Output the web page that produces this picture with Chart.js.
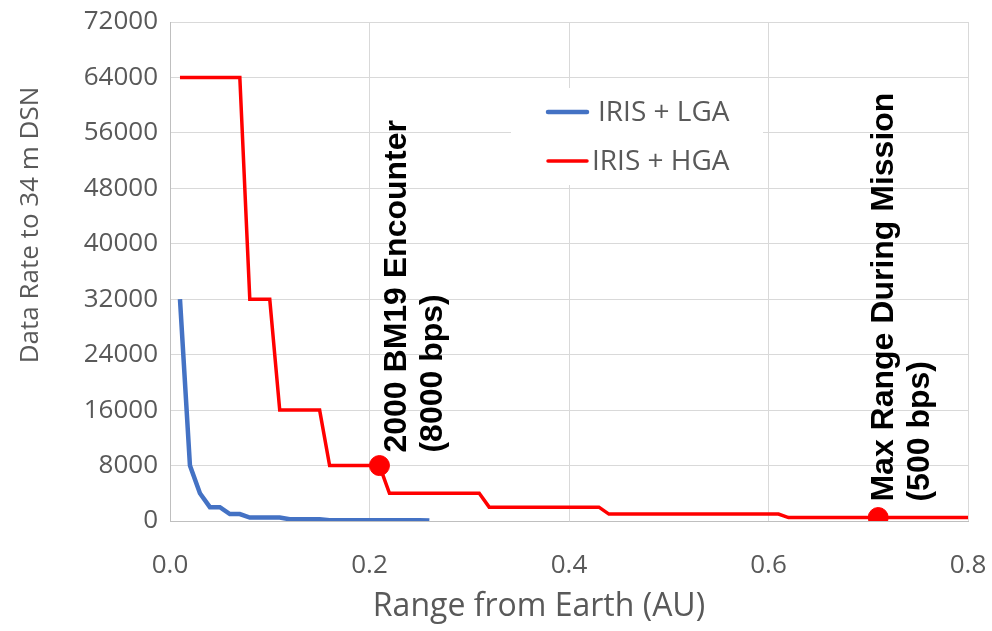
<!DOCTYPE html>
<html><head><meta charset="utf-8">
<script src="https://cdn.jsdelivr.net/npm/chart.js@4.4.1/dist/chart.umd.min.js"></script>
<style>html,body{margin:0;padding:0;background:#fff;overflow:hidden}</style>
</head><body>
<canvas id="c" width="992" height="631" style="width:992px;height:631px;display:block"></canvas>
<script>
// ---- data ----
const lgaRange = [0.01,0.02,0.03,0.04,0.05,0.06,0.07,0.08,0.09,0.10,0.11,0.12,0.13,0.14,0.15,0.16,0.17,0.18,0.19,0.20,0.21,0.22,0.23,0.24,0.25,0.26];
const lgaRate  = [32000,8000,4000,2000,2000,1000,1000,500,500,500,500,250,250,250,250,125,125,125,125,125,125,125,125,125,125,60];
const hgaRange = [0.01,0.07,0.08,0.10,0.11,0.15,0.16,0.21,0.22,0.31,0.32,0.43,0.44,0.61,0.62,0.80];
const hgaRate  = [64000,64000,32000,32000,16000,16000,8000,8000,4000,4000,2000,2000,1000,1000,500,500];
const markRange = [0.21, 0.71];
const markRate  = [8000, 500];
const markLabels = [["2000 BM19 Encounter","(8000 bps)"],["Max Range During Mission","(500 bps)"]];
const seriesNames = ["IRIS + LGA","IRIS + HGA"];
const xTickValues = [0.0,0.2,0.4,0.6,0.8];
const yTickValues = [0,8000,16000,24000,32000,40000,48000,56000,64000,72000];
const xTitle = "Range from Earth (AU)";
const yTitle = "Data Rate to 34 m DSN";

const BLUE = "#4472C4", RED = "#FF0000", GREY = "#595959";
const FONT = "'Open Sans', 'Liberation Sans', sans-serif";

const toPts = (xs, ys) => xs.map((x,i)=>({x:x, y:ys[i]}));

const overlay = {
  id: 'overlay',
  beforeDatasetsDraw(chart){
    const ctx = chart.ctx;
    ctx.save();
    // legend box
    ctx.fillStyle = '#fff';
    ctx.fillRect(511, 88, 252, 97);
    const items = [{c:BLUE,w:4.5,y:112,tx:598},{c:RED,w:3.5,y:161,tx:592}];
    items.forEach((it,i)=>{
      ctx.strokeStyle = it.c; ctx.lineWidth = it.w; ctx.lineCap='round';
      ctx.beginPath(); ctx.moveTo(548,it.y); ctx.lineTo(587,it.y); ctx.stroke();
      ctx.fillStyle = GREY; ctx.font = "28px " + FONT;
      ctx.textAlign='left'; ctx.textBaseline='middle';
      ctx.fillText(seriesNames[i], it.tx, it.y+1);
    });
    // axis titles
    ctx.fillStyle = GREY;
    ctx.textAlign='center'; ctx.textBaseline='middle';
    ctx.font = "32px " + FONT;
    ctx.fillText(xTitle, 539, 607);
    ctx.font = "26px " + FONT;
    ctx.translate(31, 225); ctx.rotate(-Math.PI/2);
    ctx.fillText(yTitle, 0, 0);
    ctx.restore();
  },
  afterDatasetsDraw(chart){
    const ctx = chart.ctx, xs = chart.scales.x, ys = chart.scales.y;
    const offs = [[27,13],[15,16]];
    ctx.save();
    ctx.fillStyle = '#000';
    ctx.font = "bold 32px 'Liberation Sans', Arial, sans-serif";
    ctx.textAlign='left'; ctx.textBaseline='alphabetic';
    markRange.forEach((r,i)=>{
      const px = xs.getPixelForValue(r), py = ys.getPixelForValue(markRate[i]);
      ctx.save();
      ctx.translate(px+offs[i][0], py-offs[i][1]);
      ctx.rotate(-Math.PI/2);
      markLabels[i].forEach((t,j)=>ctx.fillText(t, 0, j*36));
      ctx.restore();
    });
    ctx.restore();
  }
};

new Chart(document.getElementById('c'), {
  type: 'scatter',
  data: {
    datasets: [
      {label: seriesNames[0], data: toPts(lgaRange,lgaRate), showLine:true, borderColor:BLUE, borderWidth:4.5, pointRadius:0, tension:0, fill:false, order:2},
      {label: seriesNames[1], data: toPts(hgaRange,hgaRate), showLine:true, borderColor:RED, borderWidth:3.5, pointRadius:0, tension:0, fill:false, order:1},
      {label: 'markers', data: toPts(markRange,markRate), showLine:false, backgroundColor:RED, borderColor:RED, pointRadius:10, pointHoverRadius:10, order:0}
    ]
  },
  options: {
    responsive:false, animation:false, devicePixelRatio:1,
    layout:{padding:{left:0,right:24,top:22,bottom:0}},
    plugins:{legend:{display:false}, tooltip:{enabled:false}},
    scales:{
      x:{type:'linear', min:0, max:0.8,
        afterBuildTicks: s => { s.ticks = xTickValues.map(v=>({value:v})); },
        afterFit: s => { s.height = 110; s.paddingLeft = 0; s.paddingRight = 0; },
        grid:{color:'#d9d9d9', lineWidth:1, drawTicks:false},
        border:{color:'#bfbfbf', width:1},
        ticks:{color:GREY, font:{family:FONT, size:26}, padding:29, maxRotation:0, callback:v=>v.toFixed(1)}
      },
      y:{type:'linear', min:0, max:72000,
        afterBuildTicks: s => { s.ticks = yTickValues.map(v=>({value:v})); },
        afterFit: s => { s.width = 170; s.paddingTop = 0; s.paddingBottom = 0; },
        grid:{color:'#d9d9d9', lineWidth:1, drawTicks:false},
        border:{color:'#bfbfbf', width:1},
        ticks:{color:GREY, font:{family:FONT, size:26}, padding:12, callback:v=>String(v)}
      }
    }
  },
  plugins:[overlay]
});
</script>
</body></html>
